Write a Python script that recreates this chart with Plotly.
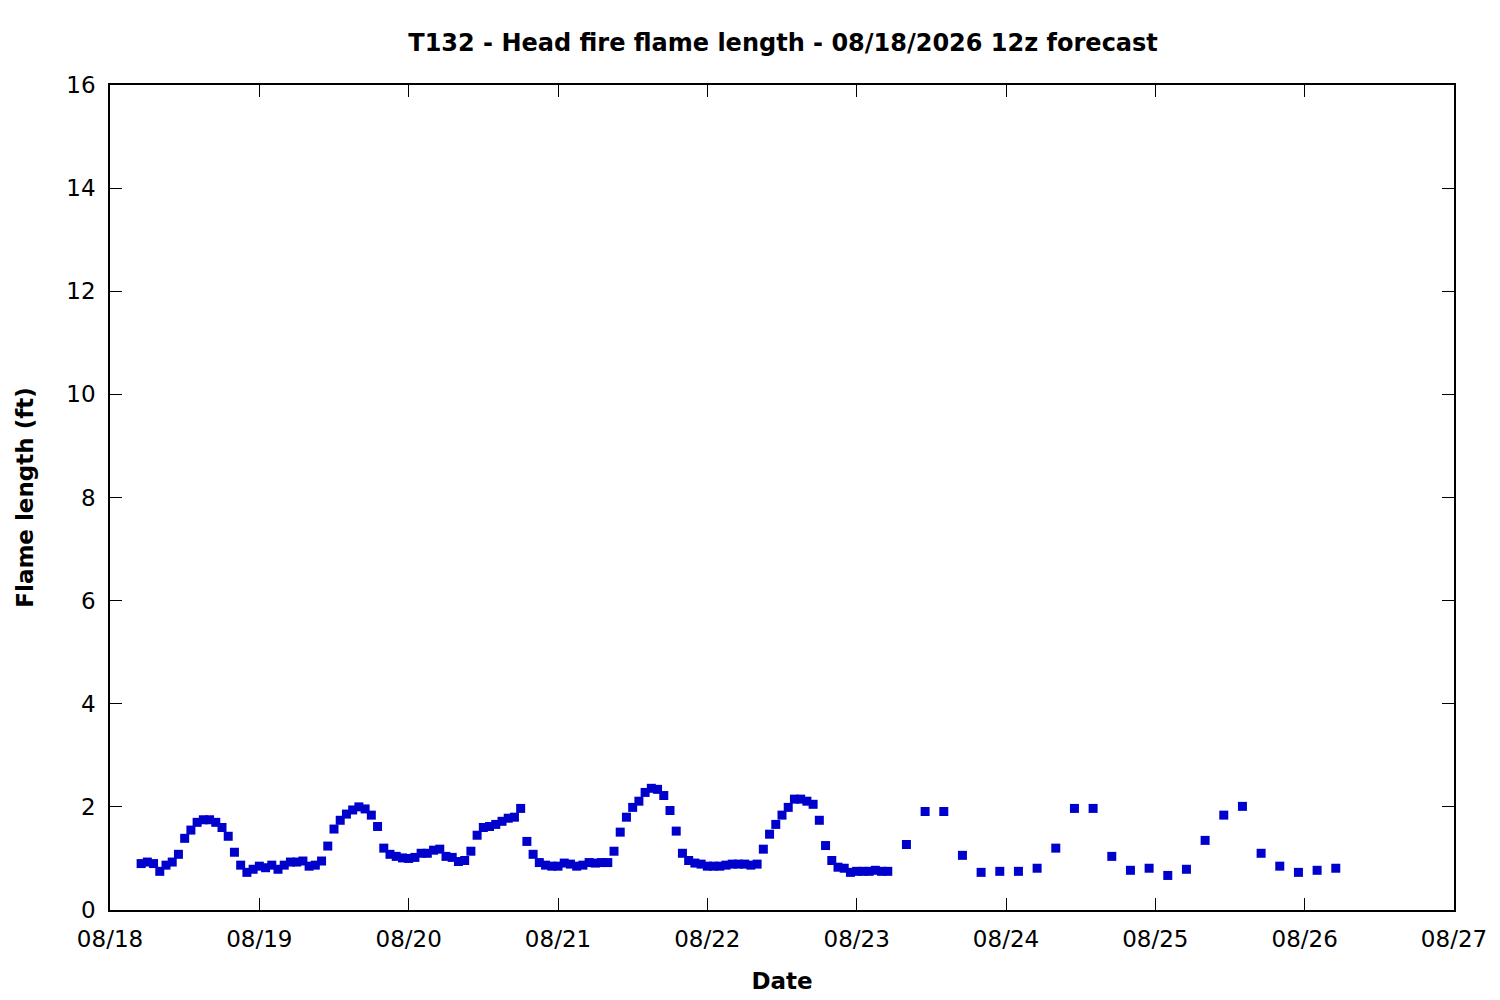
import pandas as pd
import plotly.graph_objects as go

# Hourly forecast values, 08/18 05:00 through 08/23 05:00
hourly_start = '2026-08-18 05:00'
hourly_flame = [
    0.90, 0.93, 0.90, 0.75, 0.87, 0.93, 1.08, 1.39, 1.55, 1.70, 1.75, 1.75,
    1.70, 1.60, 1.43, 1.12, 0.87, 0.73, 0.79, 0.85, 0.82, 0.87, 0.79, 0.87,
    0.93, 0.93, 0.95, 0.85, 0.87, 0.95, 1.24, 1.57, 1.74, 1.86, 1.94, 2.00,
    1.96, 1.84, 1.62, 1.20, 1.08, 1.04, 1.01, 1.00,
    1.02, 1.10, 1.10, 1.16, 1.18, 1.04, 1.02, 0.94, 0.96, 1.14, 1.45, 1.60,
    1.62, 1.66, 1.72, 1.78, 1.80, 1.97, 1.33, 1.08, 0.92, 0.87, 0.85, 0.85,
    0.91, 0.89, 0.85, 0.87, 0.92, 0.91, 0.92, 0.92, 1.14, 1.51, 1.80, 1.99,
    2.11, 2.28, 2.36, 2.34, 2.22, 1.93, 1.53, 1.10, 0.96, 0.91,
    0.89, 0.85, 0.85, 0.85, 0.87, 0.89, 0.89, 0.89, 0.87, 0.89, 1.18, 1.47,
    1.66, 1.84, 1.99, 2.15, 2.15, 2.11, 2.05, 1.74, 1.25, 0.96, 0.83, 0.81,
    0.73, 0.75, 0.75, 0.75, 0.77, 0.75, 0.75,
]

# 3-hourly values after that
threehr_start = '2026-08-23 08:00'
threehr_flame = [
    1.27, 1.91, 1.91, 1.06, 0.73, 0.75, 0.75, 0.81, 1.20, 1.97, 1.97, 1.04,
    0.77, 0.81, 0.67, 0.79, 1.35, 1.84, 2.01, 1.10, 0.85, 0.73, 0.77, 0.81,
]

date_ticks = ['08/18', '08/19', '08/20', '08/21', '08/22', '08/23', '08/24', '08/25', '08/26', '08/27']
y_ticks = [0, 2, 4, 6, 8, 10, 12, 14, 16]

times = list(pd.date_range(hourly_start, periods=len(hourly_flame), freq='h')) + \
        list(pd.date_range(threehr_start, periods=len(threehr_flame), freq='3h'))
flame = hourly_flame + threehr_flame
tick_vals = pd.date_range('2026-08-18', periods=len(date_ticks), freq='D')

fig = go.Figure()
fig.add_trace(go.Scatter(x=times, y=flame, mode='markers',
                         marker=dict(symbol='square', size=9, color='#0000cc', line=dict(width=0)),
                         showlegend=False))

font = 'DejaVu Sans'
# page body adds ~8px offset, margins compensate for it
fig.update_layout(
    width=1500, height=1000,
    margin=dict(l=102, r=54, t=77, b=98),
    plot_bgcolor='white', paper_bgcolor='white',
    font=dict(family=font, size=23, color='black'),
    title=dict(text='T132 - Head fire flame length - 08/18/2026 12z forecast',
               x=0.5167, xanchor='center', y=0.965, yanchor='middle',
               font=dict(family=font, size=24, weight='bold')),
)
fig.update_xaxes(
    range=['2026-08-18', '2026-08-27'], tickvals=tick_vals, ticktext=date_ticks,
    ticks='inside', ticklen=12, tickcolor='black', showline=True, linecolor='black',
    linewidth=1.5, mirror='ticks', showgrid=False, zeroline=False, ticklabelstandoff=8,
    title=dict(text='Date', font=dict(family=font, size=23, weight='bold'), standoff=22),
)
fig.update_yaxes(
    range=[0, 16], tickvals=y_ticks,
    ticks='inside', ticklen=12, tickcolor='black', showline=True, linecolor='black',
    linewidth=1.5, mirror='ticks', showgrid=False, zeroline=False, ticklabelstandoff=8,
    title=dict(text='Flame length (ft)', font=dict(family=font, size=23, weight='bold'), standoff=26),
)

fig.write_html('out.html')
